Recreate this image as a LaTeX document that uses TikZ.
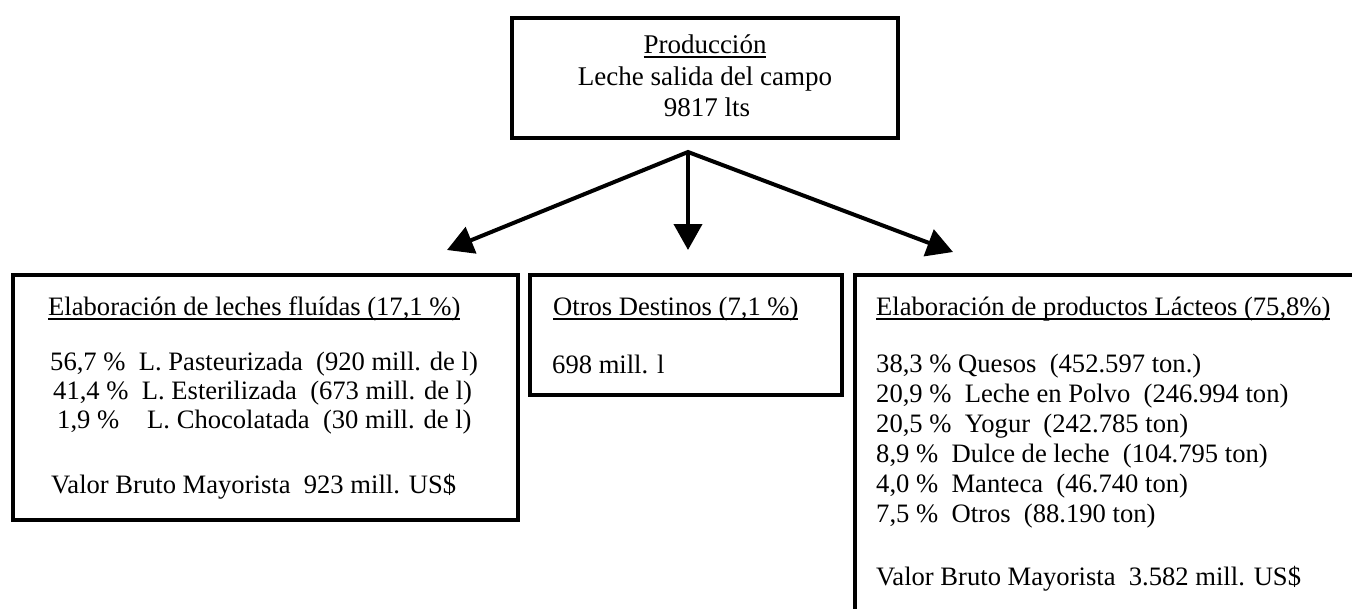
\documentclass[tikz,border=0pt]{standalone}
\usepackage{fontspec}
\setmainfont{Liberation Serif}
\usetikzlibrary{arrows.meta}
\newsavebox\ulbox
\newcommand{\myul}[1]{\sbox\ulbox{#1}\rlap{\rule[-4.5pt]{\wd\ulbox}{1.4pt}}\usebox\ulbox}
\tikzset{mytip/.tip={Triangle[width=28pt,length=26pt]}}
\begin{document}
\begin{tikzpicture}[x=1pt,y=-1pt,
  frame/.style={draw,line width=4.5pt,rectangle,inner sep=0pt,outer sep=0pt},
  big/.style={font=\fontsize{27}{31}\selectfont,inner sep=0pt},
  txt/.style={font=\fontsize{26.6}{30}\selectfont,inner sep=0pt,anchor=base west},
  flow/.style={line width=4pt,line join=miter}]
\useasboundingbox (0,0) rectangle (1352,608);
\fill[white] (0,0) rectangle (1352,608);

% top box
\node[frame,minimum width=386pt,minimum height=120pt] (prod) at (705,78) {};
\node[big,anchor=base] (p1) at (705,53) {\myul{Producción}};
\node[big,anchor=base] (p2) at (705,85) {Leche salida del campo};
\node[big,anchor=base] (p3) at (707,116) {9817 lts};

% arrows
\coordinate (apex) at (688,152);
\coordinate (tl) at (447,250);
\coordinate (tm) at (688,250);
\coordinate (tr) at (953,252);
\draw[flow,mytip-mytip] (tl) -- (apex) -- (tr);
\draw[flow,-mytip] (apex) -- (tm);

% left box
\node[frame,minimum width=505pt,minimum height=245pt] (fluid) at (265.5,397.5) {};
\node[txt] (f0) at (48,315) {\myul{Elaboración de leches fluídas (17,1 \%)}};
\node[txt] (f1) at (50,370) {56,7 \%\ \ L. Pasteurizada\ \ (920 mill. de l)};
\node[txt] (f2) at (53,399) {41,4 \%\ \ L. Esterilizada\ \ (673 mill. de l)};
\node[txt] (f3) at (57,428) {1,9 \%\hspace{28pt}L. Chocolatada\ \ (30 mill. de l)};
\node[txt] (f4) at (51,493) {Valor Bruto Mayorista\ \ 923 mill. US\$};

% middle box
\node[frame,minimum width=312pt,minimum height=120pt] (otros) at (686,335) {};
\node[txt] (o0) at (553,315) {\myul{Otros Destinos (7,1 \%)}};
\node[txt] (o1) at (552,373) {698 mill. l};

% right box (runs past the page edge)
\begin{scope}
\clip (0,0) rectangle (1352,608);
\node[frame,minimum width=565pt,minimum height=445pt] (lact) at (1137.5,497.5) {};
\end{scope}
\node[txt] (l0) at (876,315) {\myul{Elaboración de productos Lácteos (75,8\%)}};
\node[txt] (l1) at (876,372) {38,3 \% Quesos\ \ (452.597 ton.)};
\node[txt] (l2) at (876,402) {20,9 \%\ \ Leche en Polvo\ \ (246.994 ton)};
\node[txt] (l3) at (876,432) {20,5 \%\ \ Yogur\ \ (242.785 ton)};
\node[txt] (l4) at (876,462) {8,9 \%\ \ Dulce de leche\ \ (104.795 ton)};
\node[txt] (l5) at (876,492) {4,0 \%\ \ Manteca\ \ (46.740 ton)};
\node[txt] (l6) at (876,522) {7,5 \%\ \ Otros\ \ (88.190 ton)};
\node[txt] (l7) at (876,585) {Valor Bruto Mayorista\ \ 3.582 mill. US\$};
\end{tikzpicture}
\end{document}
